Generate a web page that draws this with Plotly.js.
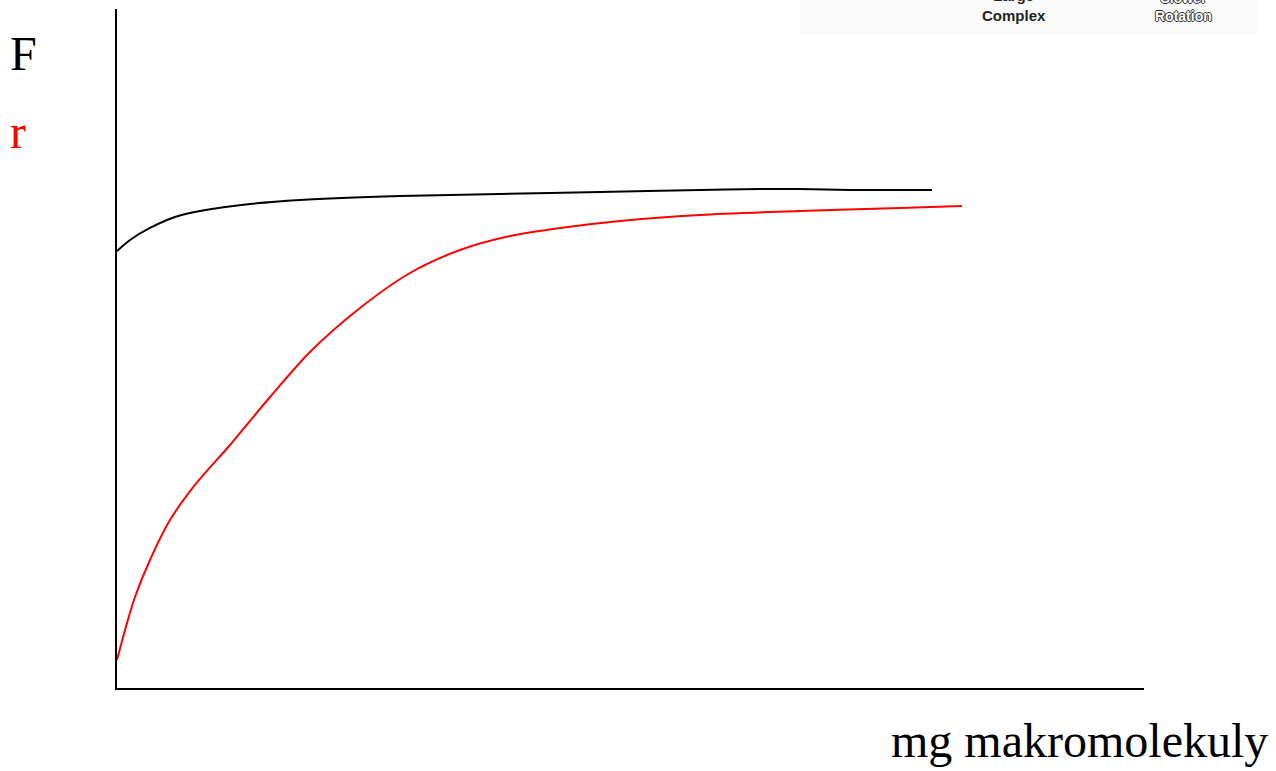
<!DOCTYPE html>
<html>
<head>
<meta charset="utf-8">
<script src="https://cdn.plot.ly/plotly-3.0.1.min.js"></script>
<style>html,body{margin:0;padding:0;background:#fff;}#chart{width:1276px;height:771px;}</style>
</head>
<body>
<div id="chart"></div>
<script>
// F curve (black)
const fX = [0, 1.27, 3.21, 5.65, 8.08, 12.95, 17.82, 27.56, 37.29, 47.03, 56.77, 62.61, 66.50, 71.37, 76.24, 79.36];
const fY = [64.36, 65.98, 67.75, 69.37, 70.25, 71.28, 71.87, 72.46, 72.75, 73.05, 73.34, 73.49, 73.49, 73.34, 73.34, 73.34];
// r curve (red)
const rX = [0, 0.78, 1.75, 3.21, 5.16, 7.59, 11.00, 14.90, 18.79, 23.66, 28.53, 33.40, 38.27, 43.14, 48.98, 56.77, 66.50, 76.24, 82.28];
const rY = [4.12, 8.54, 13.40, 18.85, 24.74, 29.90, 35.79, 42.86, 49.48, 55.96, 61.12, 64.51, 66.57, 67.75, 68.78, 69.66, 70.25, 70.69, 70.99];

const traces = [
  {x: fX, y: fY, mode: 'lines', line: {color: '#000000', width: 2, shape: 'spline', smoothing: 0.8}, hoverinfo: 'skip', name: 'F'},
  {x: rX, y: rY, mode: 'lines', line: {color: '#ff0000', width: 2, shape: 'spline', smoothing: 0.8}, hoverinfo: 'skip', name: 'r'}
];

const serif = 'Liberation Serif, Times New Roman, serif';
const layout = {
  width: 1276, height: 771,
  margin: {l: 117, r: 132, t: 9, b: 83},
  paper_bgcolor: '#ffffff', plot_bgcolor: '#ffffff',
  showlegend: false,
  xaxis: {range: [0, 100], showline: true, linecolor: '#000', linewidth: 2, showgrid: false, zeroline: false, showticklabels: false, ticks: ''},
  yaxis: {range: [0, 100], showline: true, linecolor: '#000', linewidth: 2, showgrid: false, zeroline: false, showticklabels: false, ticks: ''},
  shapes: [
    {type: 'rect', xref: 'paper', yref: 'paper', x0: 0.665, x1: 1.11, y0: 0.962, y1: 1.02, fillcolor: '#fafafa', line: {width: 0}, layer: 'below'}
  ],
  annotations: [
    {text: 'F', xref: 'paper', yref: 'paper', x: -0.0915, y: 0.935, xanchor: 'center', yanchor: 'middle', showarrow: false, font: {family: serif, size: 48, color: '#000'}},
    {text: 'r', xref: 'paper', yref: 'paper', x: -0.0964, y: 0.820, xanchor: 'center', yanchor: 'middle', showarrow: false, font: {family: serif, size: 48, color: '#ff0000'}},
    {text: 'mg makromolekuly', xref: 'paper', yref: 'paper', x: 1.123, y: -0.0766, xanchor: 'right', yanchor: 'middle', showarrow: false, font: {family: serif, size: 48, color: '#000'}},
    {text: '<b>Large<br>Complex</b>', xref: 'paper', yref: 'paper', x: 0.873, y: 0.975, xanchor: 'center', yanchor: 'bottom', showarrow: false, font: {family: 'Liberation Sans, Arial, sans-serif', size: 15, color: '#222'}},
    {text: '<b>Slower<br>Rotation</b>', xref: 'paper', yref: 'paper', x: 1.038, y: 0.975, xanchor: 'center', yanchor: 'bottom', showarrow: false, font: {family: 'Liberation Sans, Arial, sans-serif', size: 14, color: '#ffffff', shadow: '1px 0 0 #333, -1px 0 0 #333, 0 1px 0 #333, 0 -1px 0 #333'}}
  ]
};

Plotly.newPlot('chart', traces, layout, {displayModeBar: false, staticPlot: true});
</script>
</body>
</html>
